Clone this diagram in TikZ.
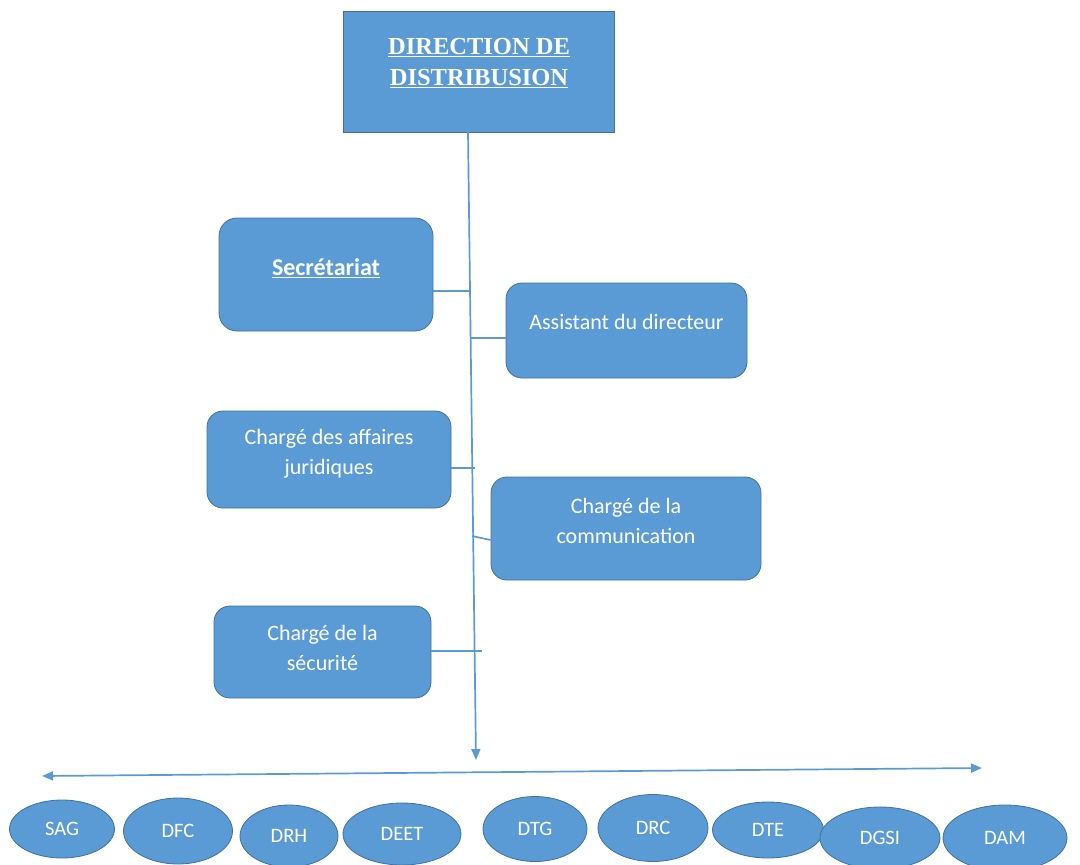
\documentclass[tikz,border=0pt]{standalone}
\usepackage{fontspec}
\setmainfont{Carlito}
\newfontfamily\titlefont{Liberation Serif}
\usetikzlibrary{arrows.meta,shapes.geometric}
\definecolor{boxfill}{HTML}{5B9BD5}
\definecolor{boxline}{HTML}{41719C}
\definecolor{linkblue}{HTML}{5B9BD5}
\tikzset{
  unitbox/.style={draw=boxline, line width=0.8pt, fill=boxfill, rounded corners=16pt, inner sep=0pt},
  headbox/.style={draw=boxline, line width=0.8pt, fill=boxfill, inner sep=0pt},
  unittext/.style={text=white, align=center, font=\fontsize{22}{30}\selectfont, inner sep=0pt},
  dept/.style={ellipse, draw=boxline, line width=0.8pt, fill=boxfill, inner sep=0pt, text=white, font=\fontsize{20.5}{22}\selectfont},
  link/.style={draw=linkblue, line width=1.7pt},
  tip/.style={-{Triangle[length=11pt,width=9pt]}}
}
\begin{document}
\begin{tikzpicture}[x=1pt,y=-1pt]
\useasboundingbox (0,0) rectangle (1080,865);

% head of the direction
\node[headbox, minimum width=271pt, minimum height=121pt] (head) at (478.5,71.5) {};
\node[text=white, align=center, inner sep=0pt, font=\titlefont\bfseries\fontsize{24.5}{31}\selectfont]
  (headt) at (479,63) {\underline{DIRECTION DE}\\\underline{DISTRIBUSION}};

% staff units
\node[unitbox, rounded corners=18pt, minimum width=214pt, minimum height=113pt] (sec) at (326,274.5) {};
\node[unittext, font=\bfseries\fontsize{24}{30}\selectfont] (sect) at (326,268) {\underline{Secrétariat}};

\node[unitbox, minimum width=241pt, minimum height=95pt] (asst) at (626.5,330.5) {};
\node[unittext] (asstt) at (626.5,322) {Assistant du directeur};

\node[unitbox, minimum width=244pt, minimum height=97pt] (jur) at (329,459.5) {};
\node[unittext] (jurt) at (329,454) {Chargé des affaires\\juridiques};

\node[unitbox, minimum width=270pt, minimum height=103pt] (com) at (626,528.5) {};
\node[unittext] (comt) at (626,521) {Chargé de la\\communication};

\node[unitbox, minimum width=217pt, minimum height=92pt] (secu) at (322.5,652) {};
\node[unittext] (secut) at (322.5,647.5) {Chargé de la\\sécurité};

% main spine and branch points
\coordinate (top) at (468,132);
\coordinate (bot) at (476,760);
\coordinate (bsec) at (469.5,291);
\coordinate (basst) at (469.5,338);
\coordinate (bjur) at (475,468);
\coordinate (bcom) at (472,536);
\coordinate (bsecu) at (482,651);

\draw[link, tip] (top) -- (bot);
\draw[link] (sec.east |- bsec) -- (bsec);
\draw[link] (basst) -- (asst.west |- basst);
\draw[link] (jur.east |- bjur) -- (bjur);
\draw[link] (bcom) -- (com.west |- 0,540);
\draw[link] (secu.east |- bsecu) -- (bsecu);

% spread arrow over the departments
\coordinate (hl) at (42,776);
\coordinate (hr) at (982,768);
\draw[link, {Triangle[length=11pt,width=9pt]}-{Triangle[length=11pt,width=9pt]}] (hl) -- (hr);

% departments
\node[dept, minimum width=105pt, minimum height=58pt] (sag) at (62,829) {SAG};
\node[dept, minimum width=109pt, minimum height=66pt] (dfc) at (178,831) {DFC};
\node[dept, minimum width=98pt, minimum height=62pt] (drh) at (289,836) {\raisebox{-4pt}{DRH}};
\node[dept, minimum width=118pt, minimum height=62pt] (deet) at (402,834) {DEET};
\node[dept, minimum width=104pt, minimum height=65pt] (dtg) at (535,829) {DTG};
\node[dept, minimum width=110pt, minimum height=67pt] (drc) at (653,828) {DRC};
\node[dept, minimum width=111pt, minimum height=56pt] (dte) at (768,830) {\raisebox{-3pt}{DTE}};
\node[dept, minimum width=120pt, minimum height=62pt] (dgsi) at (880,838) {DGSI};
\node[dept, minimum width=124pt, minimum height=66pt] (dam) at (1005,838) {DAM};
\end{tikzpicture}
\end{document}
